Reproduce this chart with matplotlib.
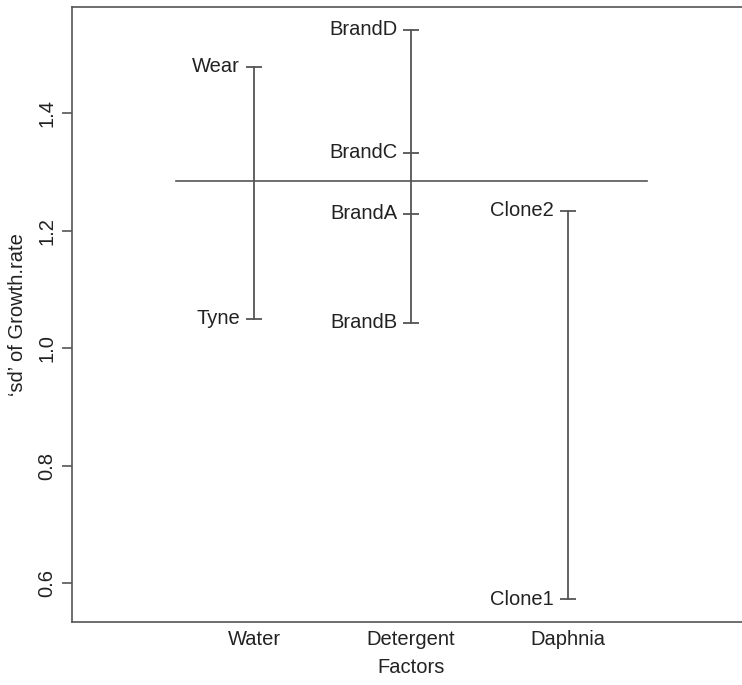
import matplotlib.pyplot as plt

plt.rcParams['font.family'] = ['Liberation Sans', 'DejaVu Sans']

factors = ["Water", "Detergent", "Daphnia"]
levels = [["Wear", "Tyne"],
          ["BrandD", "BrandC", "BrandA", "BrandB"],
          ["Clone2", "Clone1"]]
sd_values = [[1.479, 1.050],
             [1.542, 1.333, 1.229, 1.043],
             [1.234, 0.573]]
grand_sd = 1.284

line_col = "#555555"
text_col = "#222222"
fs = 14.5

fig = plt.figure(figsize=(7.42, 6.85), dpi=100)
ax = fig.add_axes([0.097, 0.092, 0.914, 0.898])

for i, (labs, vals) in enumerate(zip(levels, sd_values)):
    x = i + 1
    ax.plot([x, x], [min(vals), max(vals)], color=line_col, lw=1.3)
    ax.plot([x] * len(vals), vals, ls='none', marker='_', markersize=11,
            markeredgewidth=1.3, color=line_col)
    for lab, v in zip(labs, vals):
        ax.annotate(lab, (x, v), xytext=(-10, 0), textcoords='offset points',
                    ha='right', va='center', fontsize=fs, color=text_col)

ax.plot([0.5, len(factors) + 0.5], [grand_sd, grand_sd], color=line_col, lw=1.2)

ax.set_xlim(-0.16, 4.16)
ax.set_ylim(0.534, 1.581)
ax.set_xticks(range(1, len(factors) + 1))
ax.set_xticklabels(factors, fontsize=fs, color=text_col)
ax.tick_params(axis='x', length=0, pad=6)
ax.set_yticks([0.6, 0.8, 1.0, 1.2, 1.4])
ax.set_yticklabels(["0.6", "0.8", "1.0", "1.2", "1.4"], rotation=90, va='center',
                   fontsize=fs, color=text_col)
ax.tick_params(axis='y', length=7, width=1.2, color=line_col, pad=4)
for s in ax.spines.values():
    s.set_color(line_col)
    s.set_linewidth(1.2)

ax.set_xlabel("Factors", fontsize=fs, color=text_col, labelpad=6)
ax.set_ylabel("\u2018sd\u2019 of Growth.rate", fontsize=fs, color=text_col, labelpad=8)

fig.savefig("out.png", dpi=100)
